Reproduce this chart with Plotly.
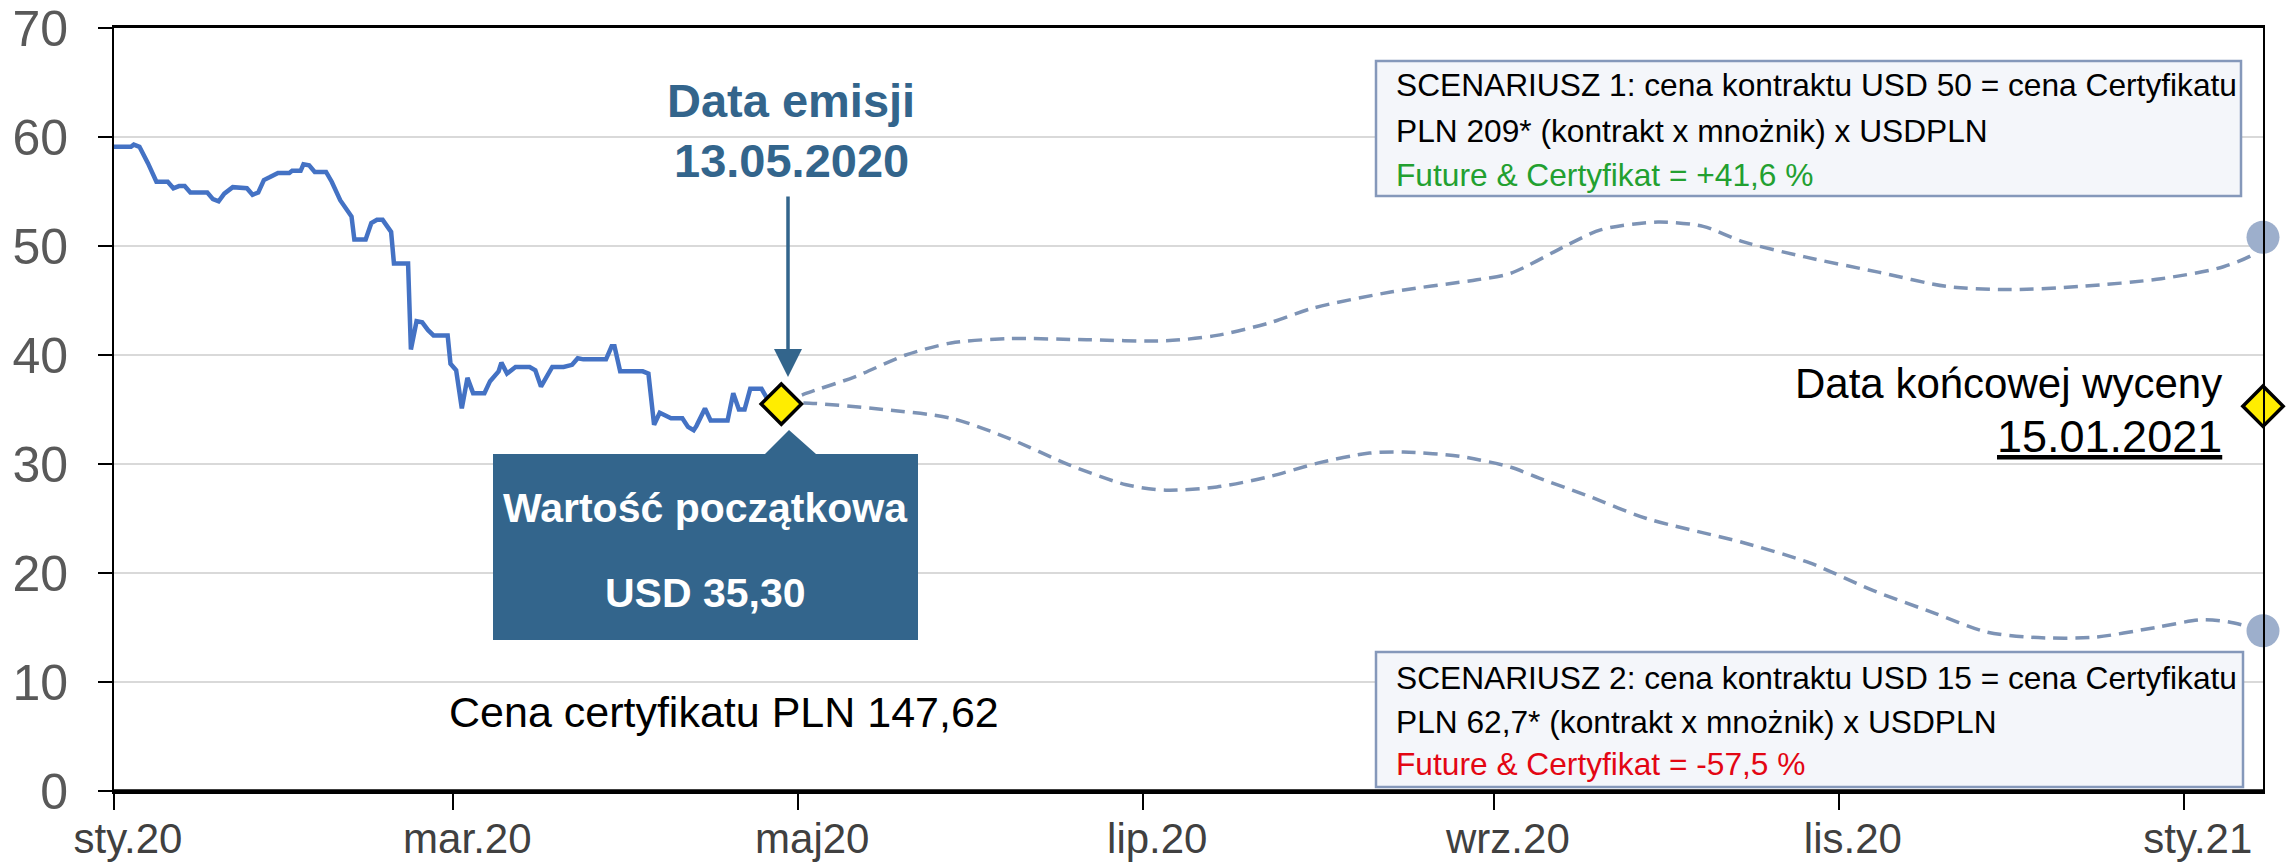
import plotly.graph_objects as go

# ---------------- data ----------------
hist_dates = [
    "2020-01-01", "2020-01-04", "2020-01-04 12:00", "2020-01-05 12:00", "2020-01-07",
    "2020-01-08 12:00", "2020-01-10 12:00", "2020-01-11 12:00", "2020-01-12 12:00",
    "2020-01-13 12:00", "2020-01-14 12:00", "2020-01-17 12:00", "2020-01-18 12:00",
    "2020-01-19 12:00", "2020-01-20 12:00", "2020-01-22", "2020-01-24 12:00",
    "2020-01-25 12:00", "2020-01-26 12:00", "2020-01-27 12:00", "2020-01-28 12:00",
    "2020-01-30", "2020-02-01", "2020-02-01 12:00", "2020-02-03", "2020-02-03 12:00",
    "2020-02-04 12:00", "2020-02-05 12:00", "2020-02-07 12:00", "2020-02-08 12:00",
    "2020-02-10", "2020-02-12", "2020-02-12 12:00", "2020-02-14 12:00",
    "2020-02-15 12:00", "2020-02-16 12:00", "2020-02-17 12:00", "2020-02-19",
    "2020-02-19 12:00", "2020-02-22", "2020-02-22 12:00", "2020-02-23 12:00",
    "2020-02-24 12:00", "2020-02-25 12:00", "2020-02-26 12:00", "2020-02-29",
    "2020-02-29 12:00", "2020-03-01 12:00", "2020-03-02 12:00", "2020-03-03 12:00",
    "2020-03-04 12:00", "2020-03-06 12:00", "2020-03-07 12:00", "2020-03-09",
    "2020-03-09 12:00", "2020-03-10 12:00", "2020-03-12", "2020-03-14 12:00",
    "2020-03-15 12:00", "2020-03-16 12:00", "2020-03-18 12:00", "2020-03-20 12:00",
    "2020-03-22", "2020-03-23", "2020-03-24", "2020-03-28", "2020-03-29",
    "2020-03-29 12:00", "2020-03-30 12:00", "2020-04-03 12:00", "2020-04-04 12:00",
    "2020-04-05 12:00", "2020-04-06 12:00", "2020-04-07 12:00", "2020-04-08 12:00",
    "2020-04-10 12:00", "2020-04-11 12:00", "2020-04-12 12:00", "2020-04-13",
    "2020-04-14 12:00", "2020-04-15 12:00", "2020-04-18 12:00", "2020-04-19 12:00",
    "2020-04-20 12:00", "2020-04-21 12:00", "2020-04-22 12:00", "2020-04-24 12:00",
    "2020-04-25 12:00", "2020-04-28",
]
hist_values = [
    59.1, 59.1, 59.3, 59.1, 57.6,
    55.9, 55.9, 55.3, 55.5,
    55.5, 54.9, 54.9, 54.3,
    54.1, 54.8, 55.4, 55.3,
    54.7, 54.9, 56.05, 56.3,
    56.7, 56.7, 56.9, 56.9, 57.5,
    57.4, 56.8, 56.8, 55.9,
    54.2, 52.7, 50.6, 50.6,
    52.1, 52.4, 52.4, 51.3,
    48.4, 48.4, 40.5, 43.1,
    43.0, 42.3, 41.8, 41.8,
    39.2, 38.6, 35.1, 37.9,
    36.5, 36.5, 37.6, 38.5,
    39.3, 38.3, 38.9, 38.9,
    38.6, 37.1, 38.9, 38.9,
    39.1, 39.7, 39.6, 39.6, 40.8,
    40.8, 38.5, 38.5, 38.3,
    33.6, 34.7, 34.5, 34.2,
    34.2, 33.4, 33.1, 33.5,
    35.1, 34.0, 34.0, 36.5,
    35.0, 35.0, 36.9, 36.9,
    36.0, 35.5,
]

up_dates = [
    "2020-04-28", "2020-05-02", "2020-05-11", "2020-05-20", "2020-05-28", "2020-06-07",
    "2020-06-21", "2020-07-05", "2020-07-14", "2020-07-23", "2020-07-31", "2020-08-14",
    "2020-08-29", "2020-09-04", "2020-09-14", "2020-09-20", "2020-09-30", "2020-10-08",
    "2020-10-15", "2020-10-26", "2020-11-08", "2020-11-20", "2020-12-01", "2020-12-14",
    "2020-12-28", "2021-01-08", "2021-01-14", "2021-01-15",
]
up_values = [
    35.5, 36.4, 38.0, 40.0, 41.1, 41.5,
    41.4, 41.3, 41.8, 42.9, 44.3, 45.8,
    46.9, 47.5, 50.1, 51.5, 52.2, 51.8,
    50.4, 49.0, 47.6, 46.3, 46.0, 46.3,
    47.0, 48.1, 49.5, 50.8,
]

down_dates = [
    "2020-04-28", "2020-05-02", "2020-05-16", "2020-05-28", "2020-06-07", "2020-06-18",
    "2020-06-28", "2020-07-05", "2020-07-14", "2020-07-23", "2020-08-01", "2020-08-10",
    "2020-08-16", "2020-08-26", "2020-09-04", "2020-09-09", "2020-09-17", "2020-09-28",
    "2020-10-15", "2020-10-27", "2020-11-07", "2020-11-18", "2020-11-27", "2020-12-05",
    "2020-12-16", "2020-12-27", "2021-01-04", "2021-01-09", "2021-01-15",
]
down_values = [
    35.5, 35.6, 35.0, 34.2, 32.4, 29.9,
    28.1, 27.6, 27.9, 28.8, 30.1, 31.0,
    31.1, 30.7, 29.7, 28.7, 27.2, 25.0,
    22.8, 20.9, 18.4, 16.3, 14.6, 14.1,
    14.1, 15.0, 15.7, 15.5, 14.7,
]

start_point = ("2020-04-28", 35.5)
end_point = ("2021-01-15", 35.3)
end_circles_x = ["2021-01-15", "2021-01-15"]
end_circles_y = [50.8, 14.7]

tick_vals = ["2020-01-01", "2020-03-01", "2020-05-01", "2020-07-01",
             "2020-09-01", "2020-11-01", "2021-01-01"]
tick_text = ["sty.20", "mar.20", "maj20", "lip.20", "wrz.20", "lis.20", "sty.21"]

# ---------------- layout helpers ----------------
PAGE_W, PAGE_H = 2296, 867
BODY = 8                       # default page margin around the plot div
W, H = PAGE_W - BODY, PAGE_H - BODY
L, R, T, B = 114, 2263, 28, 791   # plot area in page pixels
FONT = "Liberation Sans"
DARK = "#33658C"


def px(xp):
    return (xp - L) / (R - L)


def py(yp):
    return (B - yp) / (B - T)


fig = go.Figure()

dash_style = dict(color="#7D93B5", width=3.5, dash="14px,8px", shape="spline", smoothing=0.8)
fig.add_trace(go.Scatter(x=up_dates, y=up_values, mode="lines", line=dash_style,
                         hoverinfo="skip", showlegend=False))
fig.add_trace(go.Scatter(x=down_dates, y=down_values, mode="lines", line=dash_style,
                         hoverinfo="skip", showlegend=False))
fig.add_trace(go.Scatter(x=hist_dates, y=hist_values, mode="lines",
                         line=dict(color="#4472C4", width=4.5),
                         showlegend=False))
fig.add_trace(go.Scatter(x=end_circles_x, y=end_circles_y, mode="markers",
                         marker=dict(symbol="circle", size=33, color="#9DAFCC"),
                         cliponaxis=False, showlegend=False))
fig.add_trace(go.Scatter(x=[start_point[0], end_point[0]], y=[start_point[1], end_point[1]],
                         mode="markers",
                         marker=dict(symbol="diamond", size=31, color="#FFED00",
                                     line=dict(color="black", width=3.5)),
                         cliponaxis=False, showlegend=False))

shapes = []
# callout box with pointer
path = "M {a},{b} L {c},{b} L {d},{e} L {f},{b} L {g},{b} L {g},{h} L {a},{h} Z".format(
    a=px(493), b=py(454), c=px(765), d=px(789), e=py(430), f=px(816), g=px(918), h=py(640))
shapes.append(dict(type="path", xref="paper", yref="paper", path=path,
                   fillcolor=DARK, line=dict(width=0), layer="above"))
# scenario boxes
for (x0, y0, x1, y1) in [(1376, 61, 2241, 196), (1376, 652, 2243, 787)]:
    shapes.append(dict(type="rect", xref="paper", yref="paper",
                       x0=px(x0), x1=px(x1), y0=py(y1), y1=py(y0),
                       fillcolor="#F4F6FA", line=dict(color="#8598BA", width=2.5),
                       layer="above"))
# thicker bottom axis
shapes.append(dict(type="line", xref="paper", yref="paper", x0=0, x1=1, y0=0, y1=0,
                   line=dict(color="black", width=3.5), layer="above"))

ann = []


def text(x, y, s, size, color="black", bold=False, xanchor="center"):
    ann.append(dict(xref="paper", yref="paper", x=px(x), y=py(y),
                    text=("<b>%s</b>" % s) if bold else s, showarrow=False,
                    xanchor=xanchor, yanchor="middle",
                    font=dict(family=FONT, size=size, color=color)))


text(791, 101, "Data emisji", 47, DARK, bold=True)
text(791, 161, "13.05.2020", 47, DARK, bold=True)
ann.append(dict(xref="paper", yref="paper", x=px(788), y=py(377), ax=0, ay=-182,
                axref="pixel", ayref="pixel", text="", showarrow=True,
                arrowhead=2, arrowsize=1.6, arrowwidth=3.5, arrowcolor=DARK))
text(705, 508, "Wartość początkowa", 41, "white", bold=True)
text(705, 593, "USD 35,30", 41, "white", bold=True)
text(724, 712, "Cena certyfikatu PLN 147,62", 43)

text(1394, 85, "SCENARIUSZ 1: cena kontraktu USD 50 = cena Certyfikatu", 31.7, xanchor="left")
text(1394, 131, "PLN 209* (kontrakt x mnożnik) x USDPLN", 31.7, xanchor="left")
text(1394, 175, "Future &amp; Certyfikat = +41,6 %", 31.7, "#22A030", xanchor="left")
text(1394, 678, "SCENARIUSZ 2: cena kontraktu USD 15 = cena Certyfikatu", 31.7, xanchor="left")
text(1394, 722, "PLN 62,7* (kontrakt x mnożnik) x USDPLN", 31.7, xanchor="left")
text(1394, 764, "Future &amp; Certyfikat = -57,5 %", 31.7, "#E30613", xanchor="left")

text(2224, 383, "Data końcowej wyceny", 42, xanchor="right")
text(2224, 436, "<u>15.01.2021</u>", 45, xanchor="right")

fig.update_layout(
    width=W, height=H,
    margin=dict(l=L - BODY, r=PAGE_W - R, t=T - BODY, b=PAGE_H - B, autoexpand=False),
    paper_bgcolor="white", plot_bgcolor="white",
    shapes=shapes, annotations=ann, showlegend=False,
    font=dict(family=FONT),
)
fig.update_xaxes(
    type="date", range=["2020-01-01", "2021-01-15"],
    tickmode="array", tickvals=tick_vals, ticktext=tick_text,
    ticks="outside", ticklen=16, tickwidth=2, tickcolor="black",
    tickfont=dict(family=FONT, size=42, color="#404040"),
    ticklabelshift=14, ticklabelstandoff=-7, ticklabeloverflow="allow",
    showgrid=False, zeroline=False, automargin=False,
    showline=True, linecolor="black", linewidth=2.5, mirror=True,
)
fig.update_yaxes(
    range=[0, 70], tickmode="array", tickvals=[0, 10, 20, 30, 40, 50, 60, 70],
    ticks="outside", ticklen=14, tickwidth=2, tickcolor="black",
    tickfont=dict(family=FONT, size=50, color="#595959"),
    ticklabelstandoff=20, ticklabeloverflow="allow", automargin=False,
    showgrid=True, gridcolor="#D9D9D9", gridwidth=2, zeroline=False,
    showline=True, linecolor="black", linewidth=2, mirror=True,
)

fig.write_html("out.html")
